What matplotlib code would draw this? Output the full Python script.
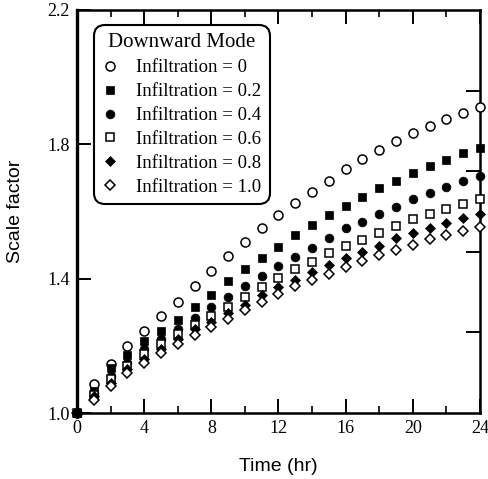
import matplotlib
matplotlib.use("Agg")
import matplotlib.pyplot as plt

# Time axis (hours)
hours = list(range(0, 25))

# Scale factor for each infiltration level (downward mode)
inf_00 = [1.000, 1.085, 1.145, 1.200, 1.245, 1.289, 1.331, 1.378, 1.423, 1.467,
          1.508, 1.550, 1.590, 1.624, 1.659, 1.692, 1.726, 1.755, 1.783, 1.810,
          1.835, 1.855, 1.875, 1.894, 1.912]
inf_02 = [1.000, 1.065, 1.134, 1.173, 1.214, 1.244, 1.277, 1.317, 1.351, 1.394,
          1.429, 1.462, 1.495, 1.530, 1.560, 1.590, 1.616, 1.644, 1.669, 1.692,
          1.716, 1.736, 1.753, 1.773, 1.790]
inf_04 = [1.000, 1.060, 1.110, 1.150, 1.190, 1.220, 1.250, 1.282, 1.317, 1.346,
          1.378, 1.408, 1.438, 1.464, 1.492, 1.521, 1.550, 1.570, 1.593, 1.613,
          1.637, 1.654, 1.672, 1.692, 1.706]
inf_06 = [1.000, 1.055, 1.100, 1.140, 1.175, 1.205, 1.235, 1.262, 1.289, 1.317,
          1.345, 1.374, 1.401, 1.428, 1.451, 1.476, 1.497, 1.515, 1.537, 1.557,
          1.578, 1.593, 1.608, 1.622, 1.637]
inf_08 = [1.000, 1.050, 1.090, 1.130, 1.160, 1.190, 1.220, 1.250, 1.270, 1.297,
          1.322, 1.350, 1.374, 1.397, 1.420, 1.440, 1.461, 1.480, 1.498, 1.520,
          1.535, 1.550, 1.565, 1.580, 1.593]
inf_10 = [1.000, 1.040, 1.080, 1.120, 1.149, 1.179, 1.205, 1.232, 1.255, 1.280,
          1.307, 1.330, 1.354, 1.377, 1.396, 1.415, 1.435, 1.452, 1.470, 1.486,
          1.501, 1.517, 1.530, 1.543, 1.555]

labels = ["Infiltration = 0", "Infiltration = 0.2", "Infiltration = 0.4",
          "Infiltration = 0.6", "Infiltration = 0.8", "Infiltration = 1.0"]

x_ticks = [0, 4, 8, 12, 16, 20, 24]
y_ticks = [1.0, 1.4, 1.8, 2.2]

serif = ["Liberation Serif", "DejaVu Serif"]
sans = ["Liberation Sans", "DejaVu Sans"]

fig = plt.figure(figsize=(4.89, 4.79), dpi=100)
ax = fig.add_axes([77 / 489, 1 - 413 / 479, 403 / 489, 403 / 479])

styles = [
    dict(marker="o", ms=6.5, mfc="white", mec="black", mew=1.1),
    dict(marker="s", ms=5.8, mfc="black", mec="black", mew=0.5),
    dict(marker="o", ms=6.3, mfc="black", mec="black", mew=0.5),
    dict(marker="s", ms=5.6, mfc="white", mec="black", mew=1.1),
    dict(marker="D", ms=4.9, mfc="black", mec="black", mew=0.5),
    dict(marker="D", ms=4.7, mfc="white", mec="black", mew=1.1),
]
series = [inf_00, inf_02, inf_04, inf_06, inf_08, inf_10]

handles = []
for vals, st, lab in zip(series, styles, labels):
    h, = ax.plot(hours, vals, linestyle="none", clip_on=False, label=lab,
                 zorder=3, **st)
    handles.append(h)

# filled square at the common origin sits on top
ax.plot(hours[:1], inf_02[:1], linestyle="none", clip_on=False, zorder=4,
        **styles[1])

ax.set_xlim(0, 24)
ax.set_ylim(1.0, 2.2)
ax.set_xticks(x_ticks)
ax.set_xticks([2, 6, 10, 14, 18, 22], minor=True)
ax.set_yticks(y_ticks)
ax.set_xticklabels([str(v) for v in x_ticks], fontfamily=serif, fontsize=13)
ax.set_yticklabels([f"{v:.1f}" for v in y_ticks], fontfamily=serif, fontsize=13)

ax.tick_params(axis="x", which="major", direction="in", length=10, width=1.4,
               top=True, bottom=True, pad=5)
ax.tick_params(axis="x", which="minor", direction="in", length=5, width=1.2,
               top=True, bottom=True)
ax.tick_params(axis="y", which="major", direction="in", length=10, width=1.4,
               left=True, right=False, pad=5)
for sp in ax.spines.values():
    sp.set_linewidth(1.8)
ax.spines["left"].set_linewidth(2.4)

# secondary scale on the right edge: five equal divisions, no labels
ax2 = ax.twinx()
ax2.set_ylim(0, 5)
ax2.set_yticks([1, 2, 3, 4])
ax2.set_yticklabels([])
ax2.tick_params(axis="y", direction="in", length=10, width=1.4)
for sp in ax2.spines.values():
    sp.set_visible(False)

ax.set_xlabel("Time (hr)", fontfamily=sans, fontsize=14, labelpad=15)
ax.set_ylabel("Scale factor", fontfamily=sans, fontsize=14, labelpad=17)

leg = ax.legend(handles=handles, loc="upper left",
                bbox_to_anchor=(17 / 403, 388 / 403), borderaxespad=0,
                title="Downward Mode", frameon=True, fancybox=True,
                prop={"family": serif, "size": 13.5},
                handlelength=0.8, handletextpad=1.0, labelspacing=0.36,
                borderpad=0.45, numpoints=1)
leg.get_title().set_fontfamily(serif)
leg.get_title().set_fontsize(15)
frame = leg.get_frame()
frame.set_edgecolor("black")
frame.set_linewidth(1.5)
frame.set_alpha(1)
frame.set_boxstyle("round", pad=0, rounding_size=0.6)
leg.set_zorder(5)
ax.set_zorder(ax2.get_zorder() + 1)
ax.patch.set_visible(False)

fig.savefig("out.png", dpi=100)
